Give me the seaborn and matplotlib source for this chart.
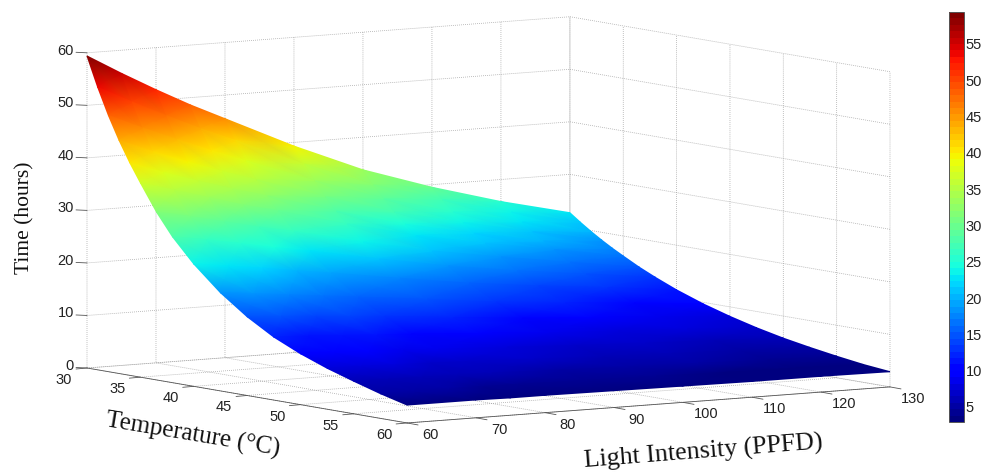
import numpy as np
import matplotlib
matplotlib.use("Agg")
import matplotlib.pyplot as plt
from matplotlib.cm import ScalarMappable
from matplotlib.colors import Normalize
from mpl_toolkits.mplot3d import proj3d
import seaborn as sns

temperature = [30, 31, 32, 33, 34, 35, 36.5, 38, 40, 42.5, 45, 47.5, 50, 52.5, 55, 57.5, 60]
light = [60, 65, 70, 75, 80, 90, 100, 110, 120, 130]

# hours, one row per light intensity
time_l60 = [59.4, 53.8, 48.8, 44.4, 40.5, 37.0, 32.0, 27.8, 23.3, 18.7, 15.0, 12.0, 9.7, 7.8, 6.2, 4.7, 3.4]
time_l65 = [55.6, 50.5, 45.9, 41.7, 38.1, 35.1, 30.6, 26.7, 22.4, 18.0, 14.6, 11.7, 9.5, 7.7, 6.1, 4.7, 3.4]
time_l70 = [52.0, 47.4, 43.2, 39.3, 36.0, 33.2, 29.1, 25.5, 21.5, 17.3, 14.1, 11.3, 9.2, 7.5, 6.0, 4.7, 3.4]
time_l75 = [48.6, 44.4, 40.6, 37.0, 34.0, 31.3, 27.6, 24.2, 20.5, 16.6, 13.6, 10.9, 8.9, 7.3, 5.9, 4.6, 3.3]
time_l80 = [45.5, 41.7, 38.2, 34.9, 32.2, 29.7, 26.3, 23.1, 19.6, 15.9, 13.1, 10.6, 8.6, 7.1, 5.8, 4.5, 3.3]
time_l90 = [39.3, 36.2, 33.4, 30.7, 28.3, 26.2, 23.3, 20.6, 17.6, 14.5, 11.9, 9.7, 8.0, 6.6, 5.4, 4.3, 3.2]
time_l100 = [33.8, 31.3, 29.0, 26.8, 24.8, 23.0, 20.6, 18.3, 15.7, 13.0, 10.8, 8.9, 7.3, 6.1, 5.0, 4.1, 3.1]
time_l110 = [29.5, 27.5, 25.5, 23.8, 22.1, 20.6, 18.5, 16.4, 14.2, 11.9, 9.9, 8.2, 6.8, 5.7, 4.7, 3.8, 3.0]
time_l120 = [25.8, 24.1, 22.6, 21.1, 19.7, 18.4, 16.5, 14.8, 12.9, 10.8, 9.1, 7.6, 6.3, 5.3, 4.4, 3.6, 3.0]
time_l130 = [22.7, 21.2, 19.8, 18.5, 17.3, 16.2, 14.6, 13.2, 11.5, 9.7, 8.2, 6.9, 5.8, 4.9, 4.1, 3.4, 2.9]

temp_ticks = [30, 35, 40, 45, 50, 55, 60]
light_ticks = [60, 70, 80, 90, 100, 110, 120, 130]
time_ticks = [0, 10, 20, 30, 40, 50, 60]
bar_ticks = [5, 10, 15, 20, 25, 30, 35, 40, 45, 50, 55]

W, H = 985, 476
TICK_FONT = ["Liberation Sans", "DejaVu Sans"]
LABEL_FONT = ["Liberation Serif", "DejaVu Serif"]
TEXT = "#222222"
LINE = "#555555"


def to_px(ax, x, y, z):
    """3D data coordinates to picture pixels (y down)."""
    shape = np.shape(x)
    x2, y2, _ = proj3d.proj_transform(np.ravel(x).astype(float), np.ravel(y).astype(float),
                                      np.ravel(z).astype(float), ax.M)
    pts = ax.transData.transform(np.column_stack([x2, y2]))
    return pts[:, 0].reshape(shape), H - pts[:, 1].reshape(shape)


def main():
    sns.set_theme(style="white", rc={
        "grid.linestyle": ":",
        "grid.linewidth": 0.55,
        "grid.color": "#9a9a9a",
    })

    fig = plt.figure(figsize=(W / 100, H / 100), dpi=100, facecolor="white")
    ax = fig.add_axes([0, 0.5 - W / H / 2, 1, W / H], projection="3d", proj_type="ortho")
    ax.view_init(elev=6.5, azim=-33.4)
    ax.set_xlim(30, 60, view_margin=0)
    ax.set_ylim(60, 130, view_margin=0)
    ax.set_zlim(0, 60, view_margin=0)
    ax.set_xticks(temp_ticks, labels=[""] * len(temp_ticks))
    ax.set_yticks(light_ticks, labels=[""] * len(light_ticks))
    ax.set_zticks(time_ticks, labels=[""] * len(time_ticks))
    ax.patch.set_alpha(0)
    for axis in (ax.xaxis, ax.yaxis, ax.zaxis):
        axis.set_pane_color((1, 1, 1, 1))
        axis.pane.set_edgecolor((1, 1, 1, 0))
        axis.line.set_color((1, 1, 1, 0))
        axis._axinfo["tick"]["linewidth"] = {True: 0, False: 0}
    ax.grid(True)

    # fit the box to the frame of the reference
    zoom = 1.0
    for _ in range(3):
        ax.set_box_aspect((581, 578, 317), zoom=zoom)
        fig.canvas.draw()
        xs, ys = to_px(ax, [30, 60], [60, 130], [0, 0])
        zoom *= (890 - 87) / (xs[1] - xs[0])
    ax.set_box_aspect((581, 578, 317), zoom=zoom)
    fig.canvas.draw()
    xs, ys = to_px(ax, [30], [60], [0])
    pos = ax.get_position()
    ax.set_position([pos.x0 + (87 - xs[0]) / W, pos.y0 - (368 - ys[0]) / H, pos.width, pos.height])
    fig.canvas.draw()

    # overlay in picture pixels, gouraud shading keeps the surface smooth
    over = fig.add_axes([0, 0, 1, 1])
    over.set_xlim(0, W)
    over.set_ylim(H, 0)
    over.axis("off")

    hours = np.array([time_l60, time_l65, time_l70, time_l75, time_l80,
                      time_l90, time_l100, time_l110, time_l120, time_l130])
    tt, ll = np.meshgrid(temperature, light)
    sx, sy = to_px(ax, tt, ll, hours)
    cmap = plt.get_cmap("jet", 64)
    norm = Normalize(vmin=2.93, vmax=59.4)
    over.pcolormesh(sx, sy, hours, shading="gouraud", cmap=cmap, norm=norm)

    # axis lines
    ax_x, ax_y = to_px(ax, [30, 60, 60], [60, 60, 130], [0, 0, 0])
    over.plot(ax_x, ax_y, color=LINE, lw=0.6)

    for t in temp_ticks:
        x, y = to_px(ax, [t], [60], [0])
        over.plot([x[0], x[0] - 11], [y[0], y[0] + 1], color=LINE, lw=0.6)
        over.text(x[0] - 23, y[0] + 12, str(t), ha="center", va="center", fontsize=10.5,
                  family=TICK_FONT, color=TEXT)
    for l in light_ticks:
        x, y = to_px(ax, [60], [l], [0])
        over.plot([x[0], x[0] + 11], [y[0], y[0] + 2], color=LINE, lw=0.6)
        over.text(x[0] + 23, y[0] + 12, str(l), ha="center", va="center", fontsize=10.5,
                  family=TICK_FONT, color=TEXT)
    for z in time_ticks:
        x, y = to_px(ax, [30], [60], [z])
        over.plot([x[0], x[0] - 11], [y[0], y[0] - 0.5], color=LINE, lw=0.6)
        over.text(x[0] - 13, y[0] - 2, str(z), ha="right", va="center", fontsize=10.5,
                  family=TICK_FONT, color=TEXT)

    over.text(25, 218, "Time (hours)", rotation=90, ha="center", va="center", fontsize=15.5,
              family=LABEL_FONT, color="#111111")
    over.text(193, 435, "Temperature (\u00b0C)", rotation=-9.5, ha="center", va="center", fontsize=18,
              family=LABEL_FONT, color="#111111")
    over.text(703, 452, "Light Intensity (PPFD)", rotation=4.5, ha="center", va="center", fontsize=18.7,
              family=LABEL_FONT, color="#111111")

    # colorbar
    cax = fig.add_axes([949 / W, 1 - 422 / H, 15 / W, 410 / H])
    cb = fig.colorbar(ScalarMappable(norm=norm, cmap=cmap), cax=cax)
    cb.set_ticks(bar_ticks)
    cb.ax.tick_params(direction="in", length=3, width=0.7, left=True, right=True, color="#222222",
                      labelsize=10.5, labelcolor=TEXT, pad=1)
    for lab in cb.ax.get_yticklabels():
        lab.set_family(TICK_FONT)
    cb.outline.set_edgecolor(LINE)
    cb.outline.set_linewidth(0.7)

    fig.savefig("out.png", dpi=100, facecolor="white")
    plt.close(fig)


if __name__ == "__main__":
    main()
